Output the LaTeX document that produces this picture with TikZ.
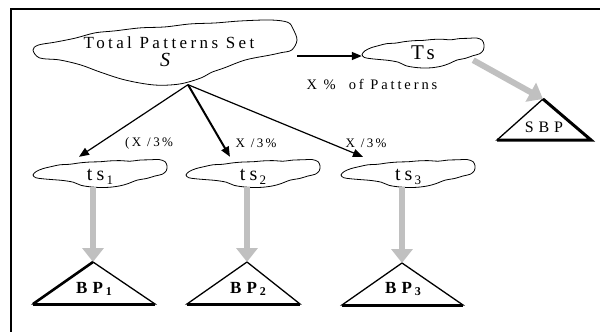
\documentclass[tikz,border=0pt]{standalone}
\usepackage{fontspec}
\setmainfont{Liberation Serif}
\newfontfamily\wide[LetterSpace=20]{Liberation Serif}
\newfontfamily\wider[LetterSpace=30]{Liberation Serif}
\usetikzlibrary{arrows.meta}
\definecolor{arrowgray}{RGB}{192,192,192}

\tikzset{
  cloudedge/.style={draw=black,line width=0.8pt},
  blackarrow/.style={line width=1.2pt,-{Triangle[length=10pt,width=8pt]}},
  grayarrow/.style={draw=arrowgray,line width=6pt,-{Triangle[length=14pt,width=21pt]}},
  tri/.style={draw=black,line width=1.3pt,line join=miter},
  label/.style={font=\fontsize{13}{15}\selectfont\wide,inner sep=0pt},
}

% wavy outline of the large set
\newcommand\bigcloud[3]{%
\draw[cloudedge,shift={(#1.center)},xscale=#2,yscale=#3] plot[smooth cycle,tension=0.55] coordinates {
(-1,-0.06) (-0.96,-0.21) (-0.83,-0.30) (-0.68,-0.42) (-0.53,-0.58) (-0.38,-0.64)
(-0.19,-0.73) (0,-0.76) (0.19,-0.85) (0.38,-0.88) (0.57,-0.94) (0.80,-0.97)
(0.93,-0.9) (0.97,-0.7) (1.0,-0.36) (0.96,-0.06) (0.88,0.02) (0.8,0.09) (0.61,0.24) (0.45,0.48)
(0.35,0.62) (0.27,0.79) (0.11,0.97) (-0.08,1.0) (-0.3,0.85) (-0.49,0.61) (-0.64,0.39)
(-0.8,0.24) (-0.95,0.18)};}

% wavy outline of the subsets
\newcommand\smallcloud[3]{%
\draw[cloudedge,shift={(#1.center)},xscale=#2,yscale=#3] plot[smooth cycle,tension=0.5] coordinates {
(-1,0.1) (-0.95,-0.15) (-0.85,-0.35) (-0.72,-0.5) (-0.6,-0.62) (-0.45,-0.66) (-0.3,-0.76)
(-0.15,-0.82) (0,-0.84) (0.15,-0.9) (0.3,-0.92) (0.45,-0.88) (0.6,-0.96) (0.75,-0.98)
(0.88,-1.0) (0.97,-0.85) (1.0,-0.55) (0.99,-0.2) (0.93,0.05) (0.82,0.18) (0.7,0.35)
(0.55,0.48) (0.42,0.72) (0.3,0.88) (0.15,0.98) (0,1.0) (-0.15,0.95) (-0.28,0.85)
(-0.4,0.62) (-0.55,0.5) (-0.7,0.44) (-0.85,0.38) (-0.96,0.3)};}

\begin{document}
\begin{tikzpicture}[x=1pt,y=-1pt]
\useasboundingbox (0,0) rectangle (600,332);
\draw[line width=1.6pt] (11,9) rectangle (620,350);

% pattern sets
\node[inner sep=0,minimum width=264pt,minimum height=65pt,align=center,
  font=\fontsize{17}{19}\selectfont] (S) at (165,52)
  {\hspace*{8pt}{\wide Total Patterns Set}\\[-1pt]{\fontsize{20}{20}\selectfont\itshape S}};
\bigcloud{S}{132}{33}

\node[inner sep=0,minimum width=122pt,minimum height=30pt,
  font=\fontsize{21}{21}\selectfont\wide] (Ts) at (423,53) {Ts};
\smallcloud{Ts}{61}{15}

\foreach \i/\x/\w in {1/100/134, 2/253/134, 3/408/133}{
  \node[inner sep=0,minimum width=\w pt,minimum height=27pt] (ts\i) at (\x,173.5) {};
  \node[font=\fontsize{20}{20}\selectfont\wide] at ([yshift=-3pt]ts\i.center)
    {ts\raisebox{-4pt}{\fontsize{13}{13}\selectfont\,\i}};
  \smallcloud{ts\i}{67}{14}
}

% subset sizes
\draw[blackarrow,line width=1.5pt] ([yshift=-3pt]S.east |- Ts.west) -- ([yshift=-3pt]Ts.west);
\node[label,font=\fontsize{14.5}{15}\selectfont\wide] (share) at (372,84) {X \% \ of Patterns};

\coordinate (fork) at ([xshift=23pt]S.south);
\draw[blackarrow] (fork) -- ([xshift=-21pt,yshift=3pt]ts1.north);
\draw[blackarrow,line width=2pt] (fork) -- ([xshift=-23pt,yshift=3pt]ts2.north);
\draw[blackarrow] (fork) -- ([xshift=-45pt,yshift=3pt]ts3.north);
\node[label] (third1) at (149,143) {(X /3\,\%};
\node[label] (third2) at (256,143) {X /3\,\%};
\node[label] (third3) at (366,143) {X /3\,\%};

% base patterns
\foreach \i/\ax/\ay/\l/\r in {1/93/262/60/62, 2/247/262/60/53, 3/402/263/60/61}{
  \coordinate (top\i) at (\ax,\ay);
  \draw[tri] (top\i) -- ++(-\l,42) coordinate (bl\i) -- (\ax+\r,\ay+42) coordinate (br\i) -- cycle;
  \draw[line width=3pt] (bl\i) -- (br\i);
  \node[font=\fontsize{17}{17}\selectfont\bfseries\wider] (bp\i) at (\ax+1,289)
    {BP\,\raisebox{-2pt}{\fontsize{12}{12}\selectfont\i}};
  \draw[grayarrow] (top\i |- ts\i.south) -- (top\i);
}
\draw[line width=2.6pt] (bl1) -- (top1);

\coordinate (top4) at (543,99);
\draw[tri] (top4) -- (497,140) coordinate (bl4) -- (591,140) coordinate (br4) -- cycle;
\draw[line width=3pt,line join=miter] (top4) -- (br4) -- (bl4);
\node[font=\fontsize{16}{16}\selectfont\wider,inner sep=0pt] (sbp) at (544,127) {SBP};
\draw[grayarrow] ([xshift=-11pt,yshift=8pt]Ts.south east) -- (top4);
\end{tikzpicture}
\end{document}
